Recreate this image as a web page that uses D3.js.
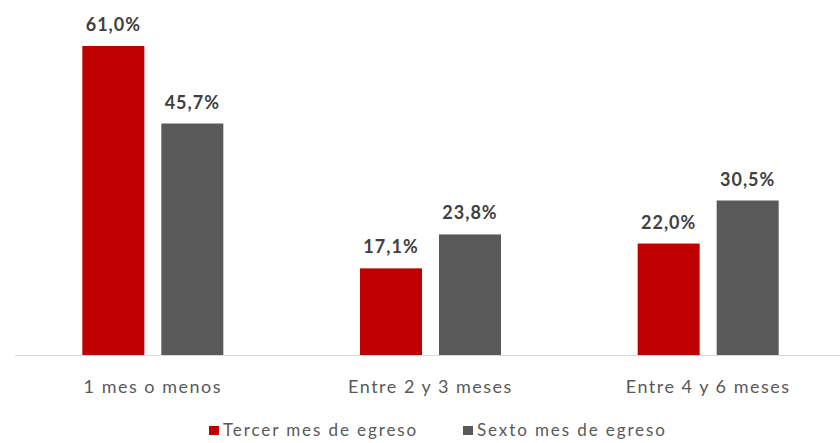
<!DOCTYPE html>
<html>
<head>
<meta charset="utf-8">
<script src="https://cdn.jsdelivr.net/npm/d3@7"></script>
<style>
  body { margin: 0; background: #fff; }
  svg { display: block; font-family: Lato, "Open Sans", sans-serif; }
</style>
</head>
<body>
<div id="chart"></div>
<script>
const categories = ['1 mes o menos', 'Entre 2 y 3 meses', 'Entre 4 y 6 meses'];
const seriesNames = ['Tercer mes de egreso', 'Sexto mes de egreso'];
const tercer = [61.0, 17.1, 22.0];
const sexto = [45.7, 23.8, 30.5];
const colors = ['#C00000', '#595959'];

const W = 840, H = 443;
const baseY = 355;
const svg = d3.select('#chart').append('svg').attr('width', W).attr('height', H);

const x0 = d3.scaleBand().domain(categories).range([14, 847]).paddingInner(0).paddingOuter(0);
const x1 = d3.scaleBand().domain(seriesNames).range([0, x0.bandwidth()]).paddingInner(0.215).paddingOuter(0.865);
const y = d3.scaleLinear().domain([0, 61]).range([baseY, 46]);

const rows = categories.map((c, i) => ({ cat: c, vals: [tercer[i], sexto[i]] }));
const fmt = (v) => v.toFixed(1).replace('.', ',') + '%';

const groups = svg.append('g').selectAll('g').data(rows).join('g')
  .attr('transform', (d) => `translate(${x0(d.cat)},0)`);

groups.selectAll('rect').data((d) => d.vals.map((v, k) => ({ k, v })))
  .join('rect')
  .attr('x', (d) => x1(seriesNames[d.k]))
  .attr('y', (d) => y(d.v))
  .attr('width', x1.bandwidth())
  .attr('height', (d) => baseY - y(d.v))
  .attr('fill', (d) => colors[d.k]);

groups.selectAll('text.val').data((d) => d.vals.map((v, k) => ({ k, v })))
  .join('text').attr('class', 'val')
  .attr('x', (d) => x1(seriesNames[d.k]) + x1.bandwidth() / 2)
  .attr('y', (d) => y(d.v) - 15)
  .attr('text-anchor', 'middle')
  .attr('font-size', 18).attr('font-weight', 'bold').attr('fill', '#404040')
  .attr('letter-spacing', 1)
  .text((d) => fmt(d.v));

// axis line
svg.append('line').attr('x1', 15).attr('x2', 840).attr('y1', baseY + 0.5).attr('y2', baseY + 0.5)
  .attr('stroke', '#D9D9D9').attr('stroke-width', 1);

const xAxis = svg.append('g').attr('transform', `translate(0,${baseY})`)
  .call(d3.axisBottom(x0).tickSize(0).tickPadding(0));
xAxis.select('.domain').remove();
xAxis.selectAll('text').attr('dy', 0).attr('y', 38)
  .attr('font-size', 18).attr('font-family', 'Lato, "Open Sans", sans-serif').attr('fill', '#595959')
  .attr('letter-spacing', 1.5);

// legend
const legendX = [209, 463];
const leg = svg.append('g').selectAll('g').data(seriesNames).join('g')
  .attr('transform', (d, i) => `translate(${legendX[i]},426)`);
leg.append('rect').attr('width', 10).attr('height', 9).attr('fill', (d, i) => colors[i]);
leg.append('text').attr('x', 14).attr('y', 10).attr('font-size', 17).attr('fill', '#595959')
  .attr('letter-spacing', 1.9).text((d) => d);
</script>
</body>
</html>
